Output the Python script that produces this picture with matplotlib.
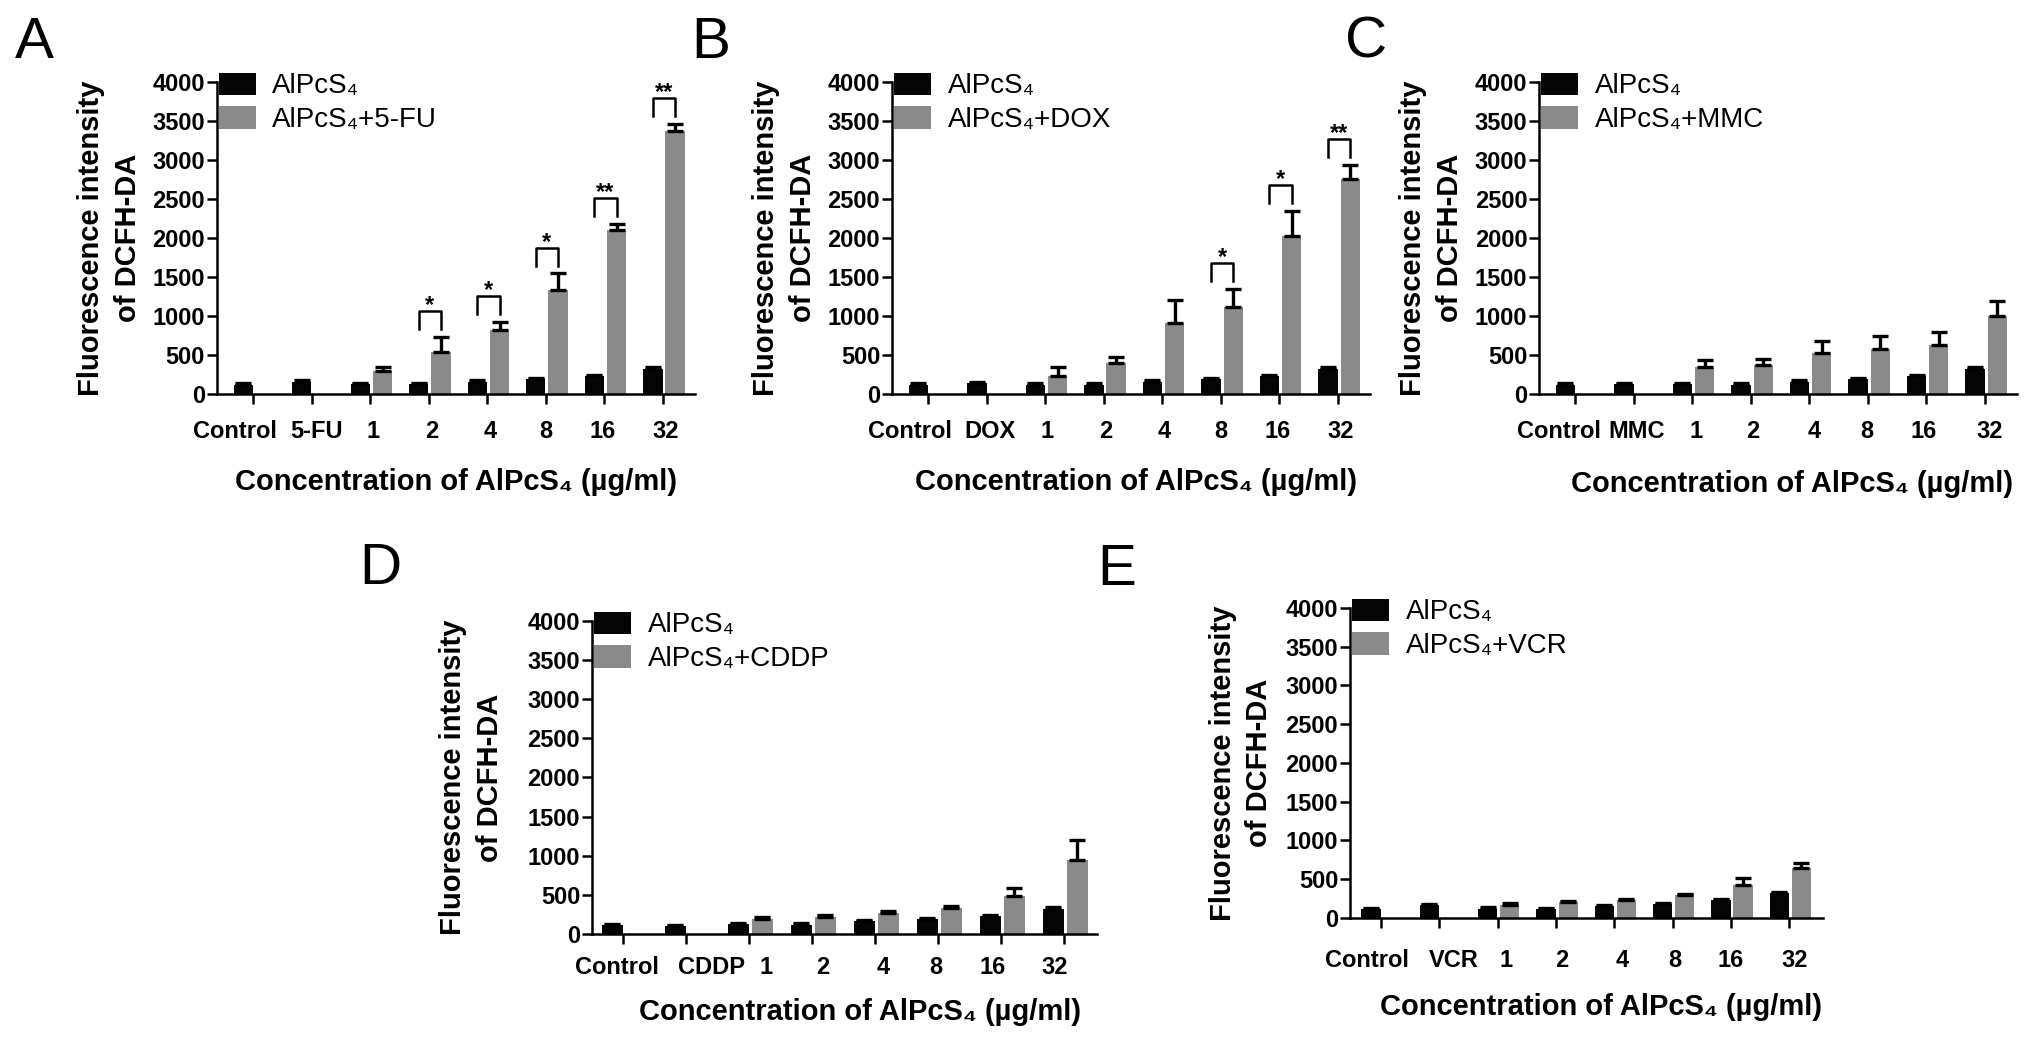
import numpy as np
import matplotlib
matplotlib.use('Agg')
import matplotlib.pyplot as plt
import matplotlib.transforms as mtransforms

plt.rcParams['font.family'] = ['Liberation Sans', 'DejaVu Sans']
plt.rcParams['font.weight'] = 'bold'
plt.rcParams['axes.labelweight'] = 'bold'

# ----------------------------------
# Data
# ----------------------------------

concentrations = ['1', '2', '4', '8', '16', '32']
drugs = ['5-FU', 'DOX', 'MMC', 'CDDP', 'VCR']
letters = ['A', 'B', 'C', 'D', 'E']

# AlPcS4 alone (black bars), same layout in every panel: Control, drug, 1..32
alpcs4_5fu = [120, 160, 130, 130, 160, 190, 230, 320]
alpcs4_dox = [120, 140, 120, 120, 160, 190, 230, 320]
alpcs4_mmc = [120, 130, 130, 120, 160, 190, 230, 320]
alpcs4_cddp = [110, 100, 130, 120, 160, 190, 230, 320]
alpcs4_vcr = [110, 170, 120, 110, 150, 180, 230, 320]
alpcs4_err = [15, 15, 15, 15, 15, 15, 15, 20]

# AlPcS4 + drug (grey bars)
nan = np.nan
combo_5fu = [nan, nan, 300, 540, 820, 1330, 2100, 3370]
combo_5fu_err = [nan, nan, 40, 190, 105, 215, 85, 95]
combo_dox = [nan, nan, 230, 400, 910, 1110, 2030, 2750]
combo_dox_err = [nan, nan, 110, 80, 300, 240, 320, 190]
combo_mmc = [nan, nan, 340, 370, 520, 580, 630, 1000]
combo_mmc_err = [nan, nan, 100, 80, 160, 160, 160, 190]
combo_cddp = [nan, nan, 190, 220, 270, 330, 490, 940]
combo_cddp_err = [nan, nan, 30, 20, 20, 25, 100, 260]
combo_vcr = [nan, nan, 170, 200, 230, 290, 420, 650]
combo_vcr_err = [nan, nan, 20, 25, 20, 20, 100, 60]

# significance marks
sig_5fu = ['', '', '', '*', '*', '*', '**', '**']
sig_dox = ['', '', '', '', '', '*', '*', '**']
sig_none = [''] * 8

# ----------------------------------
# Layout
# ----------------------------------
W, H = 2031, 1039
fig = plt.figure(figsize=(W / 100, H / 100), dpi=100)

rects = [[0.1068, 0.6208, 0.2354, 0.3003],
         [0.4392, 0.6208, 0.2354, 0.3003],
         [0.7578, 0.6208, 0.2354, 0.3003],
         [0.2915, 0.1011, 0.2486, 0.3013],
         [0.6647, 0.1165, 0.2329, 0.2984]]
xlims = [(-0.62, 7.55)] * 3 + [(-0.49, 7.52), (-0.53, 7.58)]
tick_size = [17, 17, 17, 17, 17]
tick_pads = [12, 12, 12, 9, 15]
xlabel_x = [0.50, 0.51, 0.53, 0.53, 0.53]
xlabel_y = [-0.283, -0.283, -0.29, -0.249, -0.287]
ylabel_x = [-0.157, -0.157, -0.157, -0.174, -0.162]
# small horizontal shifts of the category labels (pixels), as in the original
label_shift = [[-18, 5, 3, 3, 3, 0, -2, 3],
               [-18, 3, 2, 2, 2, 0, -2, 3],
               [-16, 3, 4, 2, 5, -1, -3, 5],
               [-6, 26, 17, 11, 8, -2, -9, -9],
               [-14, 14, 8, 6, 8, 2, 0, 5]]
letter_pos = [(15, 58), (691, 58), (1345, 58), (359, 584), (1097, 585)]

BLACK = '#050505'
GREY = '#8a8a8a'
OFF_BLACK = -0.17
OFF_GREY = 0.21
BW = 0.33


def draw_panel(ax, drug, black, black_err, grey, grey_err, sig, i):
    x = np.arange(len(black))
    ekw = dict(ecolor='black', elinewidth=2.4, capsize=6, capthick=2.4)
    ax.bar(x + OFF_BLACK, black, BW, color=BLACK, label='AlPcS₄',
           yerr=[np.zeros(len(black)), black_err], error_kw=ekw)
    ax.bar(x + OFF_GREY, grey, BW, color=GREY, label='AlPcS₄+' + drug,
           yerr=[np.zeros(len(grey)), grey_err], error_kw=ekw)

    # significance brackets
    for k, s in enumerate(sig):
        if not s:
            continue
        bot = grey[k] + grey_err[k] + 100
        top = bot + 230
        xl, xr = x[k] + OFF_BLACK, x[k] + OFF_GREY
        ax.plot([xl, xl, xr, xr], [bot, top, top, bot], color='black',
                lw=1.8, clip_on=False)
        ax.text((xl + xr) / 2, top - 15, s, ha='center', va='baseline',
                fontsize=17)

    ax.set_ylim(0, 4000)
    ax.set_yticks(np.arange(0, 4001, 500))
    ax.set_xlim(*xlims[i])
    ax.set_xticks(x)
    ax.set_xticklabels(['Control', drug] + concentrations)

    for side in ['top', 'right']:
        ax.spines[side].set_visible(False)
    for side in ['left', 'bottom']:
        ax.spines[side].set_linewidth(1.8)
    ax.tick_params(axis='both', direction='out', length=7, width=1.8)
    ax.tick_params(axis='y', pad=1.5, labelsize=17)
    ax.tick_params(axis='x', pad=tick_pads[i], labelsize=tick_size[i])
    for lab, dx in zip(ax.get_xticklabels(), label_shift[i]):
        lab.set_transform(lab.get_transform() + mtransforms.ScaledTranslation(
            dx / 100, 0, fig.dpi_scale_trans))

    ax.set_ylabel('Fluorescence intensity\nof DCFH-DA', fontsize=21,
                  fontweight='bold', linespacing=1.4)
    ax.yaxis.set_label_coords(ylabel_x[i], 0.5)
    ax.set_xlabel('Concentration of AlPcS₄ (µg/ml)', fontsize=21,
                  fontweight='bold', va='center')
    ax.xaxis.set_label_coords(xlabel_x[i], xlabel_y[i])

    ax.legend(loc='upper left', bbox_to_anchor=(0.004, 1.03), frameon=False,
              borderpad=0, borderaxespad=0, handlelength=1.33,
              handleheight=0.86, handletextpad=0.6, labelspacing=0.25,
              prop={'size': 20, 'weight': 'normal'})


panels = [
    (alpcs4_5fu, combo_5fu, combo_5fu_err, sig_5fu),
    (alpcs4_dox, combo_dox, combo_dox_err, sig_dox),
    (alpcs4_mmc, combo_mmc, combo_mmc_err, sig_none),
    (alpcs4_cddp, combo_cddp, combo_cddp_err, sig_none),
    (alpcs4_vcr, combo_vcr, combo_vcr_err, sig_none),
]

for i, (black, grey, grey_err, sig) in enumerate(panels):
    ax = fig.add_axes(rects[i])
    draw_panel(ax, drugs[i], black, alpcs4_err, grey, grey_err, sig, i)
    lx, ly = letter_pos[i]
    fig.text(lx / W, 1 - ly / H, letters[i], fontsize=42, fontweight='normal',
             ha='left', va='baseline')

fig.savefig('out.png', dpi=100)
